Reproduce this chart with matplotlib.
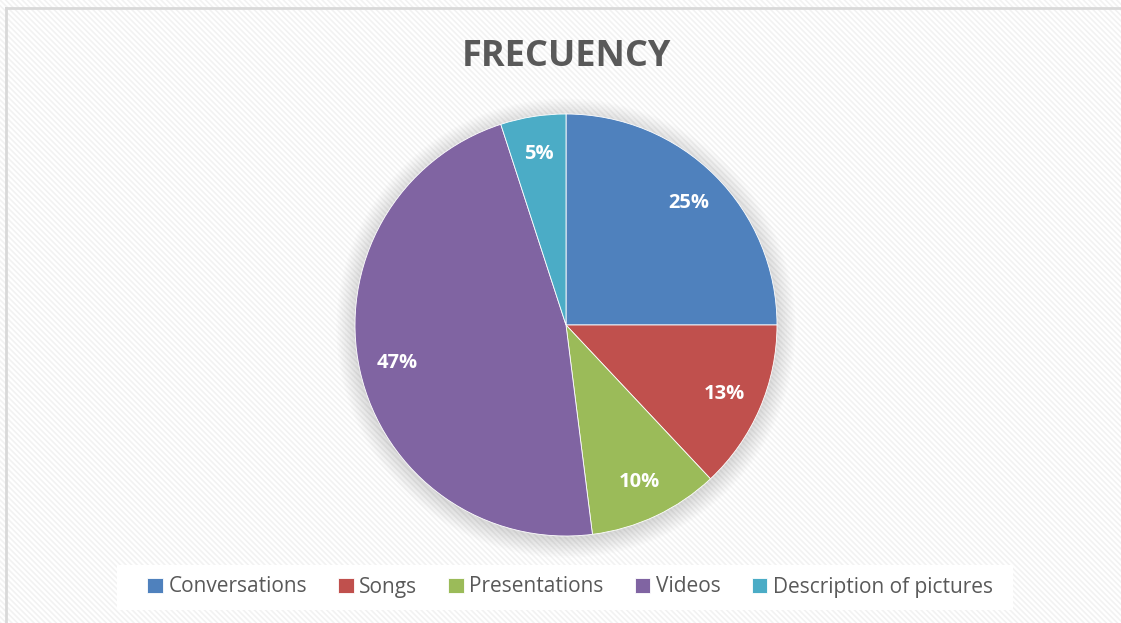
import matplotlib.pyplot as plt
from matplotlib.patches import Rectangle, Circle
from matplotlib.lines import Line2D

# ===== data =====
categories = ["Conversations", "Songs", "Presentations", "Videos", "Description of pictures"]
values = [25, 13, 10, 47, 5]
colors = ["#4F81BD", "#C0504D", "#9BBB59", "#8064A2", "#4BACC6"]
title = "FRECUENCY"

W, H = 1121, 623
fig = plt.figure(figsize=(W / 100, H / 100), dpi=100)
fig.patch.set_facecolor("white")

# striped background
plt.rcParams["hatch.linewidth"] = 1.2
bg = Rectangle((0, 0), 1, 1, transform=fig.transFigure, facecolor="white",
               edgecolor="#f2f2f2", hatch="\\" * 6, linewidth=0, zorder=-10)
fig.add_artist(bg)

# frame (top + left visible)
fig.add_artist(Line2D([6 / W, 1], [1 - 8 / H, 1 - 8 / H], transform=fig.transFigure,
                      color="#d9d9d9", lw=2, zorder=-5))
fig.add_artist(Line2D([6 / W, 6 / W], [0, 1 - 8 / H], transform=fig.transFigure,
                      color="#d9d9d9", lw=2, zorder=-5))

# legend box
fig.add_artist(Rectangle((117 / W, 1 - 610 / H), (1013 - 117) / W, 45 / H,
                         transform=fig.transFigure, facecolor="white",
                         edgecolor="none", zorder=-4))

# pie axes: center (566, 325), radius 211 px
cx, cy, r = 566, 325, 211
ax = fig.add_axes([(cx - r) / W, (H - cy - r) / H, 2 * r / W, 2 * r / H], zorder=2)
ax.axis("off")

# soft glow
for i in range(12):
    ax.add_patch(Circle((0, -0.015), 1.0 + i * 0.008, facecolor="black",
                        alpha=0.012, lw=0, clip_on=False, zorder=0))

wedges, texts, autotexts = ax.pie(
    values, colors=colors, startangle=90, counterclock=False, radius=1,
    autopct="%d%%", pctdistance=0.82,
    wedgeprops=dict(edgecolor="white", linewidth=0.6),
    textprops=dict(color="white", fontsize=14.5, fontweight="bold", family="Open Sans"),
)
for w in wedges:
    w.set_zorder(2)
for t in autotexts:
    t.set_zorder(3)
ax.set_xlim(-1, 1)
ax.set_ylim(-1, 1)
ax.set_aspect("equal")

fig.text(cx / W, 1 - 57 / H, title, ha="center", va="center", fontsize=26,
         fontweight="bold", color="#595959", family="Open Sans")

leg = fig.legend(wedges, categories, loc="center", bbox_to_anchor=(570 / W, 1 - 587 / H),
                 ncol=5, frameon=False, handlelength=0.75, handleheight=0.75,
                 handletextpad=0.25, columnspacing=1.5,
                 prop=dict(family="Open Sans", size=15))
for t in leg.get_texts():
    t.set_color("#595959")

fig.savefig("out.png", dpi=100)
